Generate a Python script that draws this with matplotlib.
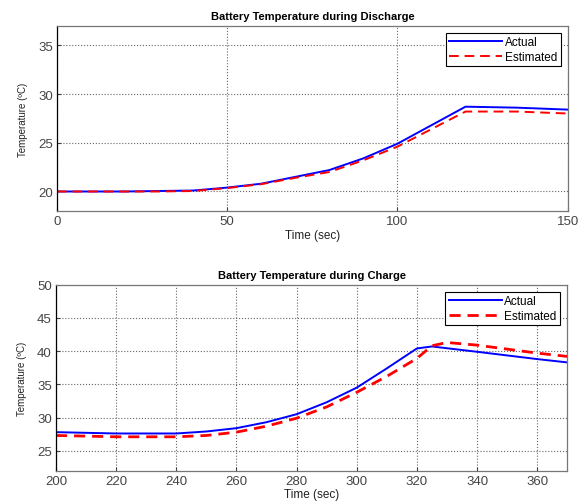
import matplotlib.pyplot as plt

plt.rcParams['font.family'] = ['Liberation Sans', 'DejaVu Sans']

# discharge data
t_dis = [0, 10, 20, 30, 40, 50, 60, 70, 80, 90, 100, 110, 120, 135, 150]
act_dis = [20.0, 20.0, 20.0, 20.05, 20.1, 20.4, 20.8, 21.5, 22.2, 23.4, 24.9, 26.8, 28.7, 28.6, 28.4]
est_dis = [20.0, 20.0, 20.0, 20.0, 20.05, 20.35, 20.75, 21.4, 22.0, 23.2, 24.6, 26.4, 28.2, 28.2, 28.0]

# charge data
t_chg_act = [200, 220, 240, 250, 260, 270, 280, 290, 300, 310, 320, 325, 340, 360, 370]
act_chg = [27.8, 27.6, 27.6, 27.9, 28.4, 29.3, 30.5, 32.3, 34.5, 37.4, 40.4, 40.7, 39.9, 38.8, 38.3]
t_chg_est = [200, 220, 240, 250, 260, 270, 280, 290, 300, 310, 320, 325, 330, 340, 360, 370]
est_chg = [27.3, 27.1, 27.1, 27.3, 27.8, 28.7, 29.9, 31.6, 33.8, 36.2, 38.9, 40.8, 41.3, 40.9, 39.7, 39.2]

fig = plt.figure(figsize=(5.79, 5.02), dpi=100)
ax1 = fig.add_axes([0.0984, 0.5777, 0.882, 0.369])
ax2 = fig.add_axes([0.0967, 0.0604, 0.883, 0.3705])

def style(ax, title):
    ax.set_title(title, fontsize=8, fontweight='bold', pad=5)
    ax.set_xlabel('Time (sec)', fontsize=8.5, labelpad=1, color='#222222')
    ax.set_ylabel('Temperature (ºC)', fontsize=7, labelpad=7, color='#222222')
    ax.grid(True, color='#666666', linestyle=':', linewidth=0.8)
    ax.tick_params(labelsize=9.5, direction='in', length=3, pad=3, colors='#444444')
    for s in ax.spines.values():
        s.set_linewidth(0.9)
    ax.spines['bottom'].set_color('#777777')
    ax.spines['right'].set_color('#777777')
    ax.spines['top'].set_color('#777777')
    leg = ax.legend(loc='upper right', fontsize=8.5, fancybox=False, edgecolor='black',
                    framealpha=1, handlelength=4.5, handletextpad=0.2, borderpad=0.3,
                    labelspacing=0.2, borderaxespad=0.6)
    leg.get_frame().set_linewidth(0.8)

ax1.plot(t_dis, act_dis, color='blue', linewidth=1.4, label='Actual')
ax1.plot(t_dis, est_dis, color='red', linestyle='--', dashes=(5, 3), linewidth=1.4, label='Estimated')
ax1.set_xlim(0, 150)
ax1.set_ylim(18, 37)
ax1.set_xticks([0, 50, 100, 150])
ax1.set_yticks([20, 25, 30, 35])
style(ax1, 'Battery Temperature during Discharge')

ax2.plot(t_chg_act, act_chg, color='blue', linewidth=1.4, label='Actual')
ax2.plot(t_chg_est, est_chg, color='red', linestyle='--', dashes=(4, 2.5), linewidth=2.0, label='Estimated')
ax2.set_xlim(200, 370)
ax2.set_ylim(22, 50)
ax2.set_xticks(range(200, 370, 20))
ax2.set_yticks([25, 30, 35, 40, 45, 50])
style(ax2, 'Battery Temperature during Charge')

fig.savefig('out.png', dpi=100)
